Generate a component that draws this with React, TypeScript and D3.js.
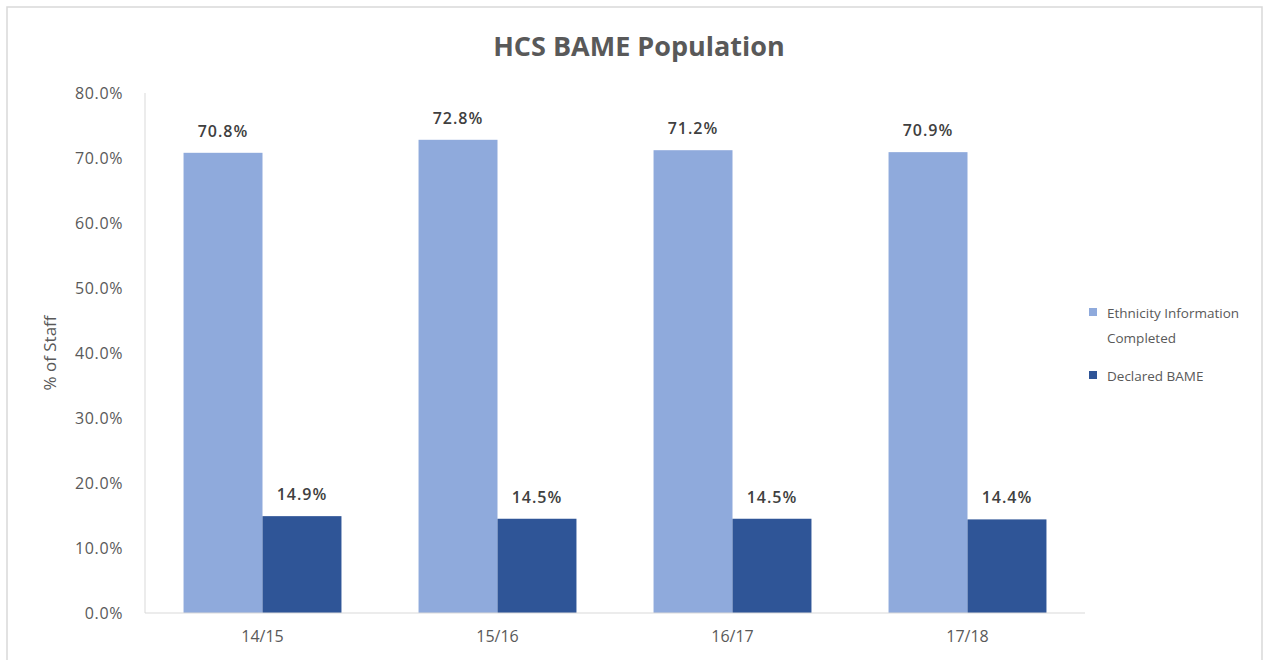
import React from "react";
import * as d3 from "d3";

const categories = ["14/15", "15/16", "16/17", "17/18"];
const seriesNames = ["Ethnicity Information Completed", "Declared BAME"];
const completed = [70.8, 72.8, 71.2, 70.9];
const declaredBame = [14.9, 14.5, 14.5, 14.4];
const yTicks = [0, 10, 20, 30, 40, 50, 60, 70, 80];

const colors = ["#8faadc", "#2f5597"];
const FONT = "'Open Sans', Lato, sans-serif";

const W = 1266;
const H = 660;
const M = { left: 145, right: 1085, top: 93, bottom: 613 };

export default function App() {
  const x = d3
    .scaleBand<string>()
    .domain(categories)
    .range([M.left, M.right])
    .paddingInner(0.328)
    .paddingOuter(0.164);
  const x1 = d3.scaleBand<number>().domain([0, 1]).range([0, x.bandwidth()]);
  const y = d3.scaleLinear().domain([0, 80]).range([M.bottom, M.top]);
  const series = [completed, declaredBame];

  return (
    <svg
      width={W}
      height={H}
      style={{ position: "absolute", left: 0, top: 0, background: "#fff" }}
      fontFamily={FONT}
    >
      <rect x={7} y={7} width={1255} height={H} fill="#fff" stroke="#d9d9d9" strokeWidth={1.5} />
      <text x={639} y={56} textAnchor="middle" fontSize={27} fontWeight={700} fill="#595959">
        HCS BAME Population
      </text>

      {/* y axis */}
      <line x1={M.left} x2={M.left} y1={M.top} y2={M.bottom} stroke="#d9d9d9" />
      {yTicks.map((t) => (
        <text
          key={t}
          x={123}
          y={y(t)}
          dy="0.35em"
          textAnchor="end"
          fontSize={16}
          letterSpacing={0.6}
          fill="#595959"
        >
          {d3.format(".1f")(t)}%
        </text>
      ))}
      <text
        transform={`translate(56,${(M.top + M.bottom) / 2}) rotate(-90)`}
        textAnchor="middle"
        fontSize={17}
        fill="#595959"
      >
        % of Staff
      </text>

      {/* bars */}
      {categories.map((c, i) => (
        <g key={c} transform={`translate(${x(c)},0)`}>
          {series.map((s, j) => (
            <g key={j}>
              <rect
                x={x1(j)}
                y={y(s[i])}
                width={x1.bandwidth()}
                height={y(0) - y(s[i])}
                fill={colors[j]}
              />
              <text
                x={(x1(j) as number) + x1.bandwidth() / 2}
                y={y(s[i]) - 16}
                textAnchor="middle"
                fontSize={16}
                fontWeight={600}
                letterSpacing={1}
                fill="#404040"
              >
                {d3.format(".1f")(s[i])}%
              </text>
            </g>
          ))}
        </g>
      ))}

      {/* x axis */}
      <line x1={M.left} x2={M.right} y1={M.bottom} y2={M.bottom} stroke="#d9d9d9" />
      {categories.map((c) => (
        <text
          key={c}
          x={(x(c) as number) + x.bandwidth() / 2}
          y={642}
          textAnchor="middle"
          fontSize={16}
          fill="#595959"
        >
          {c}
        </text>
      ))}

      {/* legend */}
      <g fontSize={13.5} fill="#595959">
        <rect x={1089} y={308} width={8} height={8} fill={colors[0]} />
        <text x={1107} y={318}>Ethnicity Information</text>
        <text x={1107} y={343}>Completed</text>
        <rect x={1089} y={371} width={8} height={8} fill={colors[1]} />
        <text x={1107} y={381}>Declared BAME</text>
      </g>
      <title>{seriesNames.join(", ")}</title>
    </svg>
  );
}
